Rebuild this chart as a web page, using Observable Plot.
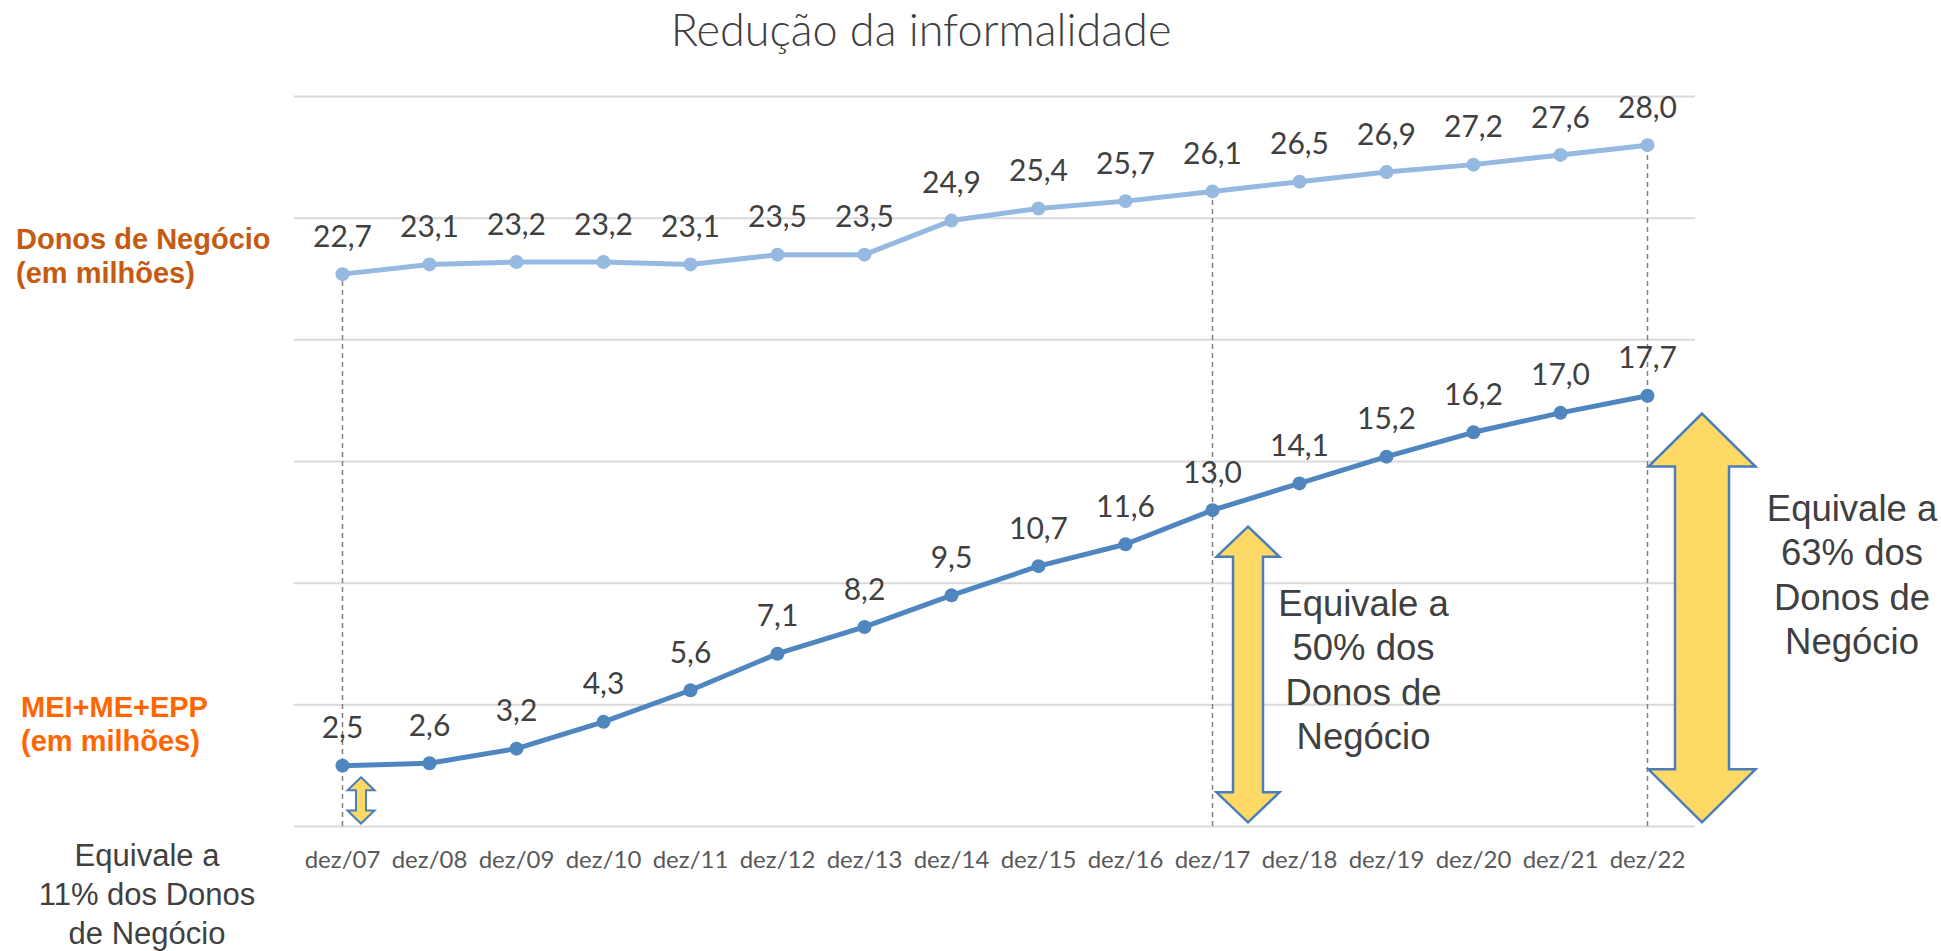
<!DOCTYPE html>
<html><head><meta charset="utf-8">
<script src="https://cdn.jsdelivr.net/npm/d3@7"></script>
<script src="https://cdn.jsdelivr.net/npm/@observablehq/plot@0.6"></script>
<style>
body{margin:0;background:#fff;}
#wrap{position:relative;width:1941px;height:951px;overflow:hidden;}
.abs{position:absolute;white-space:nowrap;}
#title{left:0;width:1842px;text-align:center;top:2px;font-family:Lato,"Open Sans",sans-serif;font-weight:300;font-size:45px;color:#404040;}
.series{font-family:"Liberation Sans",Arial,sans-serif;font-weight:bold;font-size:29px;line-height:34px;}
#lblDonos{left:16px;top:222px;color:#C55A11;}
#lblMei{left:21px;top:690px;color:#FF6600;}
#note11{left:-3px;width:300px;top:836px;text-align:center;font-family:"Liberation Sans",Arial,sans-serif;font-size:31px;line-height:39px;color:#404040;}
</style></head><body><div id="wrap"></div>
<script>
// ---- data ----
const categories = ["dez/07","dez/08","dez/09","dez/10","dez/11","dez/12","dez/13","dez/14","dez/15","dez/16","dez/17","dez/18","dez/19","dez/20","dez/21","dez/22"];
const donos = [22.7,23.1,23.2,23.2,23.1,23.5,23.5,24.9,25.4,25.7,26.1,26.5,26.9,27.2,27.6,28.0];
const mei = [2.5,2.6,3.2,4.3,5.6,7.1,8.2,9.5,10.7,11.6,13.0,14.1,15.2,16.2,17.0,17.7];
const yTicks = [0,5,10,15,20,25,30];
const guideCats = ["dez/07","dez/17","dez/22"];
const arrowCats = ["dez/07","dez/17","dez/22"];
const arrowFrom = [0.1,0.15,0.15];
const arrowTo = [2.0,12.3,16.95];
const noteCats = ["dez/17","dez/22"];
const noteY = [6.5,10.4];
const noteText = ["Equivale a\n50% dos\nDonos de\nNegócio","Equivale a\n63% dos\nDonos de\nNegócio"];
const note11 = "Equivale a<br>11% dos Donos<br>de Negócio";
const titleText = "Redução da informalidade";
const seriesNames = ["Donos de Negócio<br>(em milhões)","MEI+ME+EPP<br>(em milhões)"];

// ---- styles ----
const arrowGeom = [
  {dx:19, head:13.5, shaft:5, len:13, sw:2},
  {dx:36, head:31.5, shaft:15, len:30, sw:2.5},
  {dx:55, head:53.5, shaft:27, len:53, sw:2.5}
];
const noteDx = [151, 204.5];

const donosData = categories.map((c,i)=>({cat:c, v:donos[i]}));
const meiData = categories.map((c,i)=>({cat:c, v:mei[i]}));
const fmt = v => v.toFixed(1).replace(".", ",");

function arrowsMark(index, scales) {
  const g = d3.create("svg:g");
  arrowCats.forEach((c,i) => {
    const s = arrowGeom[i];
    const cx = scales.x(c) + s.dx;
    const yt = scales.y(arrowTo[i]), yb = scales.y(arrowFrom[i]);
    const hw = s.head, sw = s.shaft, hl = s.len;
    const pts = [[cx,yt],[cx+hw,yt+hl],[cx+sw,yt+hl],[cx+sw,yb-hl],[cx+hw,yb-hl],[cx,yb],[cx-hw,yb-hl],[cx-sw,yb-hl],[cx-sw,yt+hl],[cx-hw,yt+hl]];
    g.append("polygon").attr("points", pts.map(p=>p.join(",")).join(" "))
      .attr("fill","#FFD966").attr("stroke","#4A7EBB").attr("stroke-width", s.sw).attr("stroke-linejoin","miter");
  });
  return g.node();
}

const noteMarks = noteCats.map((c,i) => Plot.text([{cat:c, y:noteY[i], t:noteText[i]}], {
  x: "cat", y: "y", text: "t", dx: noteDx[i], fill: "#404040", fontSize: 36.5, lineHeight: 1.22,
  fontFamily: "Liberation Sans, Arial, sans-serif"
}));

const chart = Plot.plot({
  width: 1941, height: 951,
  marginLeft: 294, marginRight: 246, marginTop: 96, marginBottom: 125,
  style: {fontFamily: "Lato, sans-serif", fontSize: "24px", color: "#595959", background: "transparent"},
  x: {type: "point", domain: categories, padding: 0.5, label: null, tickSize: 0, tickPadding: 24},
  y: {domain: [0,30], axis: null},
  marks: [
    Plot.ruleY(yTicks, {stroke: "#D9D9D9", strokeWidth: 2}),
    Plot.ruleX(guideCats, {x: d=>d, y1: 0, y2: d=>donos[categories.indexOf(d)], stroke: "#808080", strokeDasharray: "5,4", strokeWidth: 1.5}),
    arrowsMark,
    Plot.line(donosData, {x: "cat", y: "v", stroke: "#95B9E1", strokeWidth: 5}),
    Plot.dot(donosData, {x: "cat", y: "v", r: 7, fill: "#95B9E1"}),
    Plot.line(meiData, {x: "cat", y: "v", stroke: "#4F86BF", strokeWidth: 5}),
    Plot.dot(meiData, {x: "cat", y: "v", r: 7, fill: "#4F86BF"}),
    Plot.text(donosData, {x: "cat", y: "v", text: d=>fmt(d.v), dy: -37, fill: "#404040", fontSize: 30, fontFamily: "Lato, sans-serif"}),
    Plot.text(meiData, {x: "cat", y: "v", text: d=>fmt(d.v), dy: -37, fill: "#404040", fontSize: 30, fontFamily: "Lato, sans-serif"}),
    ...noteMarks
  ]
});

const wrap = document.getElementById("wrap");
wrap.appendChild(chart);
const t = document.createElement("div"); t.id="title"; t.className="abs"; t.textContent = titleText; wrap.appendChild(t);
const a = document.createElement("div"); a.id="lblDonos"; a.className="abs series"; a.innerHTML = seriesNames[0]; wrap.appendChild(a);
const b = document.createElement("div"); b.id="lblMei"; b.className="abs series"; b.innerHTML = seriesNames[1]; wrap.appendChild(b);
const n = document.createElement("div"); n.id="note11"; n.className="abs"; n.innerHTML = note11; wrap.appendChild(n);
</script></body></html>
